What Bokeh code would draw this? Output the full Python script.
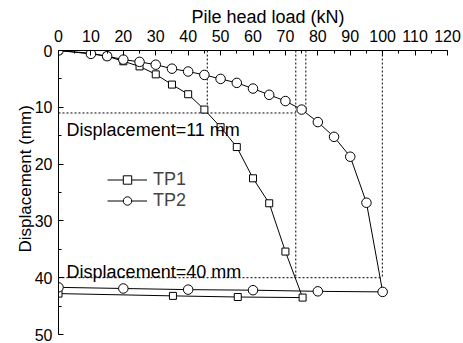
from bokeh.plotting import figure
from bokeh.models import (Range1d, SingleIntervalTicker, Label, Title,
                          Legend, LegendItem, ColumnDataSource)
from bokeh.embed import file_html
from bokeh.resources import INLINE

# ---- data ----
tp1_load = [0, 10, 15, 20, 25, 30, 35, 40, 45, 50, 55, 60, 65, 70, 75.3, 55.3, 35.3, 0]
tp1_disp = [0, 0.5, 1.0, 1.9, 2.8, 4.2, 6.0, 7.7, 10.4, 13.5, 17.0, 22.5, 26.9, 35.4, 43.5,
            43.4, 43.2, 42.8]
tp2_load = [0, 10, 15, 20, 25, 30, 35, 40, 45, 50, 55, 60, 65, 70, 75, 80, 85, 90, 95, 100,
            80, 60, 40, 20, 0]
tp2_disp = [0, 0.6, 1.0, 1.6, 2.0, 2.5, 3.2, 3.7, 4.3, 5.0, 5.7, 6.7, 7.8, 8.9, 10.4, 12.6,
            15.2, 18.7, 26.8, 42.5, 42.4, 42.2, 42.1, 41.9, 41.7]

# reference displacement levels and the loads where the curves cross them
ref_levels = [11, 40]
ref_tp1_load = [45.9, 73.2]
ref_tp2_load = [76.3, 99.9]
ref_h_end = [73.2, 99.9]
ref_texts = ["Displacement=11 mm", "Displacement=40 mm"]

x_ticks_interval = 10
y_ticks_interval = 10

FONT = "Liberation Sans"

p = figure(width=463, height=343, output_backend="svg", toolbar_location=None,
           x_range=Range1d(0, 120), y_range=Range1d(50, 0),
           x_axis_location="above", min_border_left=58, min_border_right=16,
           min_border_top=50, min_border_bottom=9)
p.outline_line_color = None
p.grid.visible = False
p.background_fill_color = "white"
p.border_fill_color = "white"

for ax, interval in ((p.xaxis[0], x_ticks_interval), (p.yaxis[0], y_ticks_interval)):
    ax.ticker = SingleIntervalTicker(interval=interval, num_minor_ticks=2)
    ax.major_tick_in = 5
    ax.major_tick_out = 0
    ax.minor_tick_in = 3
    ax.minor_tick_out = 0
    ax.axis_line_color = "black"
    ax.major_tick_line_color = "black"
    ax.minor_tick_line_color = "black"
    ax.major_label_text_font = FONT
    ax.major_label_text_font_size = "16px"
    ax.major_label_text_color = "black"
p.xaxis[0].major_label_standoff = 9
p.yaxis[0].major_label_standoff = 6

# axis titles
p.add_layout(Title(text="Pile head load (kN)", align="left", offset=133,
                   text_font=FONT, text_font_size="18px", text_font_style="normal",
                   text_color="black", standoff=0), "above")
p.add_layout(Title(text="Displacement (mm)", align="left", offset=82,
                   text_font=FONT, text_font_size="17px", text_font_style="normal",
                   text_color="black", standoff=-6), "left")

# guide lines (dotted)
gx, gy = [], []
for lvl, a, b, hend in zip(ref_levels, ref_tp1_load, ref_tp2_load, ref_h_end):
    gx.append([0, hend]); gy.append([lvl, lvl])
    gx.append([a, a]); gy.append([0, lvl])
    gx.append([b, b]); gy.append([0, lvl])
p.multi_line(gx, gy, line_color="black", line_width=1, line_dash="2 2")

src1 = ColumnDataSource(dict(x=tp1_load, y=tp1_disp))
src2 = ColumnDataSource(dict(x=tp2_load, y=tp2_disp))
l1 = p.line("x", "y", source=src1, line_color="black", line_width=1)
l2 = p.line("x", "y", source=src2, line_color="black", line_width=1)
s1 = p.scatter("x", "y", source=src1, marker="square", size=7, fill_color="white",
               line_color="black", line_width=1)
s2 = p.scatter("x", "y", source=src2, marker="circle", size=9.5, fill_color="white",
               line_color="black", line_width=1)

legend = Legend(items=[LegendItem(label="TP1", renderers=[l1, s1]),
                       LegendItem(label="TP2", renderers=[l2, s2])],
                location=(49, 123), glyph_width=40, glyph_height=21,
                label_height=21, spacing=0, padding=0, margin=0,
                label_standoff=6, label_text_font=FONT,
                label_text_font_size="18px", border_line_alpha=0,
                background_fill_alpha=0)
p.add_layout(legend, "center")

# annotation texts: first below its line, second above its line
text_y = [14.0, 39.0]
for ty, txt in zip(text_y, ref_texts):
    p.add_layout(Label(x=2.5, y=ty, text=txt, text_font=FONT,
                       text_font_size="18px", text_baseline="alphabetic",
                       text_color="black"))

open("out.html", "w").write(file_html(p, INLINE))
